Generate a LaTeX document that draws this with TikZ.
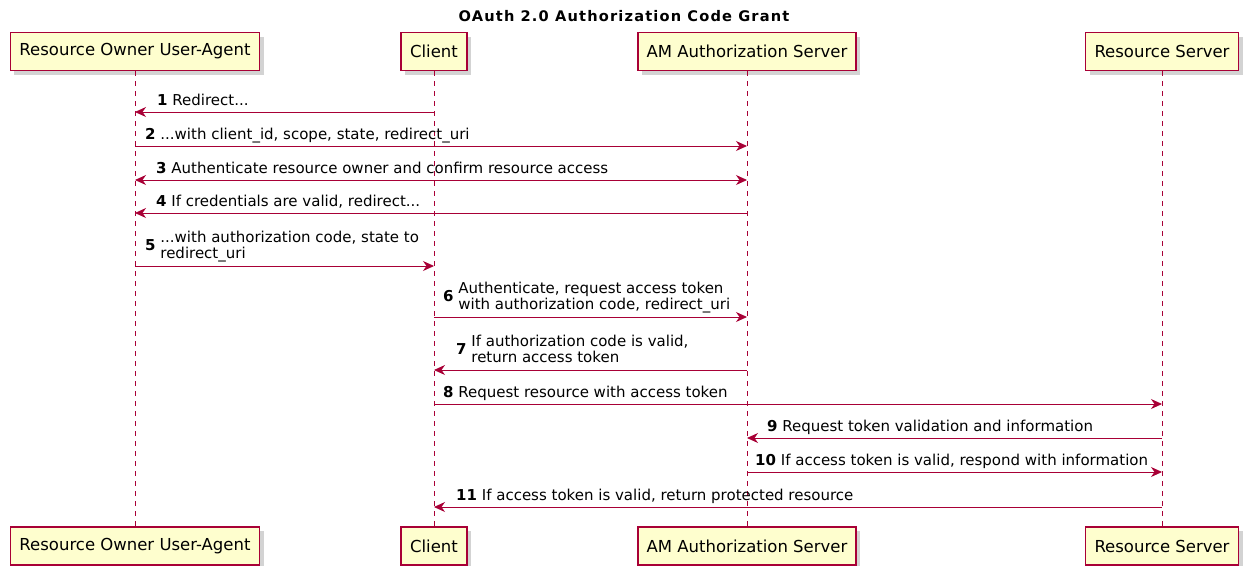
\documentclass[tikz,border=0pt]{standalone}
\usepackage{fontspec}
\setmainfont{DejaVu Sans}
\newfontfamily\titlefont[LetterSpace=8]{DejaVu Sans}
\usetikzlibrary{arrows.meta,shadows}
\definecolor{amred}{HTML}{A80036}
\definecolor{amfill}{HTML}{FEFECE}
\begin{document}
\begin{tikzpicture}[x=1pt, y=-1pt, >={Stealth[length=11pt, width=10pt, inset=3.5pt]},
    actor/.style={draw=amred, fill=amfill, line width=1.7pt, minimum height=38pt, inner xsep=9pt, font=\fontsize{16.5}{19}\selectfont, drop shadow={shadow xshift=4pt, shadow yshift=-4pt, opacity=0.35}},
    life/.style={draw=amred, dash pattern=on 5pt off 5pt, line width=0.8pt},
    msg/.style={draw=amred, line width=0.9pt, ->},
    lbl/.style={anchor=base west, inner sep=0pt, font=\fontsize{15}{16}\selectfont}]
    \useasboundingbox (0,0) rectangle (1247,565);
    \node[anchor=base, inner sep=0pt, font=\titlefont\fontsize{14.6}{16}\selectfont\bfseries] (title) at (624,21) {OAuth 2.0 Authorization Code Grant};
    % participants, top and bottom
    \node[actor] (ua) at (135,51.5) {Resource Owner User-Agent}; \node[actor] (uab) at (135,546) {Resource Owner User-Agent};
    \node[actor] (cl) at (434,51.5) {Client}; \node[actor] (clb) at (434,546) {Client};
    \node[actor] (as) at (747,51.5) {AM Authorization Server}; \node[actor] (asb) at (747,546) {AM Authorization Server};
    \node[actor] (rs) at (1162,51.5) {Resource Server}; \node[actor] (rsb) at (1162,546) {Resource Server};
    \draw[life] (ua) -- (uab) (cl) -- (clb) (as) -- (asb) (rs) -- (rsb);
    % messages
    \draw[msg] (cl |- 0,112) -- (ua |- 0,112);
    \node[lbl] (m1) at ([xshift=22pt, yshift=7pt]ua |- 0,112) {\textbf{1} Redirect...};
    \draw[msg] (ua |- 0,146) -- (as |- 0,146);
    \node[lbl] (m2) at ([xshift=10pt, yshift=7pt]ua |- 0,146) {\textbf{2} ...with client\_id, scope, state, redirect\_uri};
    \draw[msg, <->] (ua |- 0,180) -- (as |- 0,180);
    \node[lbl] (m3) at ([xshift=21pt, yshift=7pt]ua |- 0,180) {\textbf{3} Authenticate resource owner and confirm resource access};
    \draw[msg] (as |- 0,213) -- (ua |- 0,213);
    \node[lbl] (m4) at ([xshift=21pt, yshift=7pt]ua |- 0,213) {\textbf{4} If credentials are valid, redirect...};
    \draw[msg] (ua |- 0,266) -- (cl |- 0,266);
    \node[lbl] (m5) at ([xshift=10pt, yshift=15.5pt]ua |- 0,266) {\textbf{5} \begin{tabular}[c]{@{}l@{}}...with authorization code, state to\\redirect\_uri\end{tabular}};
    \draw[msg] (cl |- 0,317) -- (as |- 0,317);
    \node[lbl] (m6) at ([xshift=9pt, yshift=15.5pt]cl |- 0,317) {\textbf{6} \begin{tabular}[c]{@{}l@{}}Authenticate, request access token\\with authorization code, redirect\_uri\end{tabular}};
    \draw[msg] (as |- 0,370) -- (cl |- 0,370);
    \node[lbl] (m7) at ([xshift=22pt, yshift=15.5pt]cl |- 0,370) {\textbf{7} \begin{tabular}[c]{@{}l@{}}If authorization code is valid,\\return access token\end{tabular}};
    \draw[msg] (cl |- 0,404) -- (rs |- 0,404);
    \node[lbl] (m8) at ([xshift=9pt, yshift=7pt]cl |- 0,404) {\textbf{8} Request resource with access token};
    \draw[msg] (rs |- 0,438) -- (as |- 0,438);
    \node[lbl] (m9) at ([xshift=20pt, yshift=7pt]as |- 0,438) {\textbf{9} Request token validation and information};
    \draw[msg] (as |- 0,472) -- (rs |- 0,472);
    \node[lbl] (m10) at ([xshift=8pt, yshift=7pt]as |- 0,472) {\textbf{10} If access token is valid, respond with information};
    \draw[msg] (rs |- 0,507) -- (cl |- 0,507);
    \node[lbl] (m11) at ([xshift=22pt, yshift=7pt]cl |- 0,507) {\textbf{11} If access token is valid, return protected resource};
\end{tikzpicture}
\end{document}
